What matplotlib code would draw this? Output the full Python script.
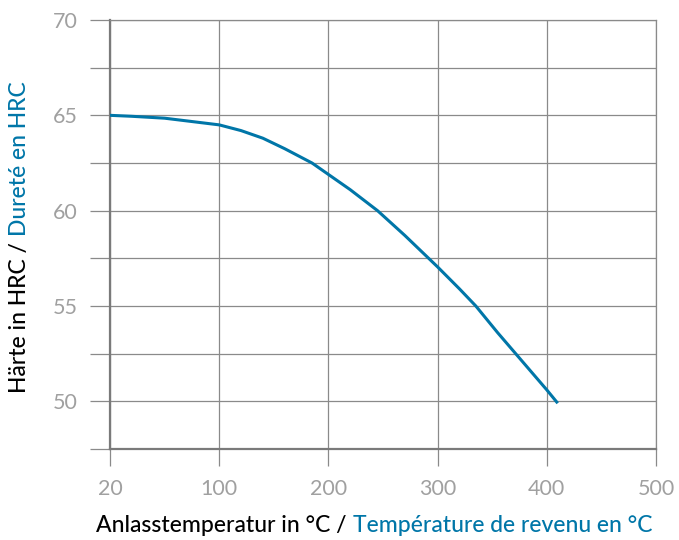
import numpy as np
import matplotlib
matplotlib.use("Agg")
import matplotlib.pyplot as plt

# Daten: Anlasstemperatur (°C) und Härte (HRC)
temperatur = [20, 36, 60, 100, 120, 140, 160, 185, 200, 220, 245, 270,
              300, 320, 335, 355, 370, 385, 400, 410]
haerte = [65.0, 64.95, 64.85, 64.5, 64.2, 63.8, 63.25, 62.5, 61.9, 61.1,
          60.0, 58.7, 57.05, 55.9, 55.0, 53.6, 52.6, 51.6, 50.6, 49.9]

x_ticks_temp = [20, 100, 200, 300, 400, 500]
y_ticks_labels = [50, 55, 60, 65, 70]

label_x_de = "Anlasstemperatur in °C /"
label_x_fr = "Température de revenu en °C"
label_y_de = "Härte in HRC /"
label_y_fr = "Dureté en HRC"

BLUE = "#0076a8"
GRID = "#8a8a8a"
TICKLABEL = "#a0a0a0"
FONT = "Lato"

# die Achse ist zwischen 20 und 100 gestaucht (20 steht an Position 0)
def temp_to_pos(t):
    t = np.asarray(t, dtype=float)
    return np.where(t < 100, (t - 20) * 100.0 / 80.0, t)

W, H, DPI = 679, 540, 100
fig = plt.figure(figsize=(W / DPI, H / DPI), dpi=DPI)
ax = fig.add_axes([110 / W, 1 - 449 / H, (656 - 110) / W, (449 - 20) / H])

ax.plot(temp_to_pos(temperatur), haerte, color=BLUE, linewidth=2.2,
        solid_capstyle="butt", solid_joinstyle="round", zorder=3)

ax.set_xlim(0, 500)
ax.set_ylim(47.5, 70)

ax.set_xticks(temp_to_pos(x_ticks_temp))
ax.set_xticklabels([str(t) for t in x_ticks_temp])
y_grid = np.arange(47.5, 70.01, 2.5)
ax.set_yticks(y_grid)
ax.set_yticklabels([str(int(v)) if v in y_ticks_labels else "" for v in y_grid])

ax.grid(True, color=GRID, linewidth=0.9)
ax.tick_params(axis="y", length=14.5, width=0.9, color=GRID, pad=9,
               labelsize=15.5, labelcolor=TICKLABEL)
ax.tick_params(axis="x", length=12.5, width=0.9, color=GRID, pad=9,
               labelsize=15.5, labelcolor=TICKLABEL)
for lbl in ax.get_xticklabels() + ax.get_yticklabels():
    lbl.set_fontfamily(FONT)

for side in ["top", "right"]:
    ax.spines[side].set_color(GRID)
    ax.spines[side].set_linewidth(0.9)
for side in ["left", "bottom"]:
    ax.spines[side].set_color("#7a7a7a")
    ax.spines[side].set_linewidth(1.6)

# zweifarbige Achsenbeschriftungen
fig.canvas.draw()
renderer = fig.canvas.get_renderer()
gap = 6
fs = 16.5

tx1 = fig.text(0, 0, label_x_de, fontsize=fs, color="black", fontfamily=FONT,
               fontweight="medium", va="center")
tx2 = fig.text(0, 0, label_x_fr, fontsize=fs, color=BLUE, fontfamily=FONT,
               fontweight="medium", va="center")
w1 = tx1.get_window_extent(renderer).width
w2 = tx2.get_window_extent(renderer).width
cx = 374
x0 = cx - (w1 + gap + w2) / 2
ypx = H - 525
tx1.set_position((x0 / W, ypx / H))
tx2.set_position(((x0 + w1 + gap) / W, ypx / H))

ty1 = fig.text(0, 0, label_y_de, fontsize=fs, color="black", fontfamily=FONT,
               fontweight="medium", rotation=90, ha="center", va="bottom")
ty2 = fig.text(0, 0, label_y_fr, fontsize=fs, color=BLUE, fontfamily=FONT,
               fontweight="medium", rotation=90, ha="center", va="bottom")
h1 = ty1.get_window_extent(renderer).height
h2 = ty2.get_window_extent(renderer).height
cy = H - 237
y0 = cy - (h1 + gap + h2) / 2
xpx = 20
ty1.set_position((xpx / W, y0 / H))
ty2.set_position((xpx / W, (y0 + h1 + gap) / H))

fig.savefig("out.png", dpi=DPI)
